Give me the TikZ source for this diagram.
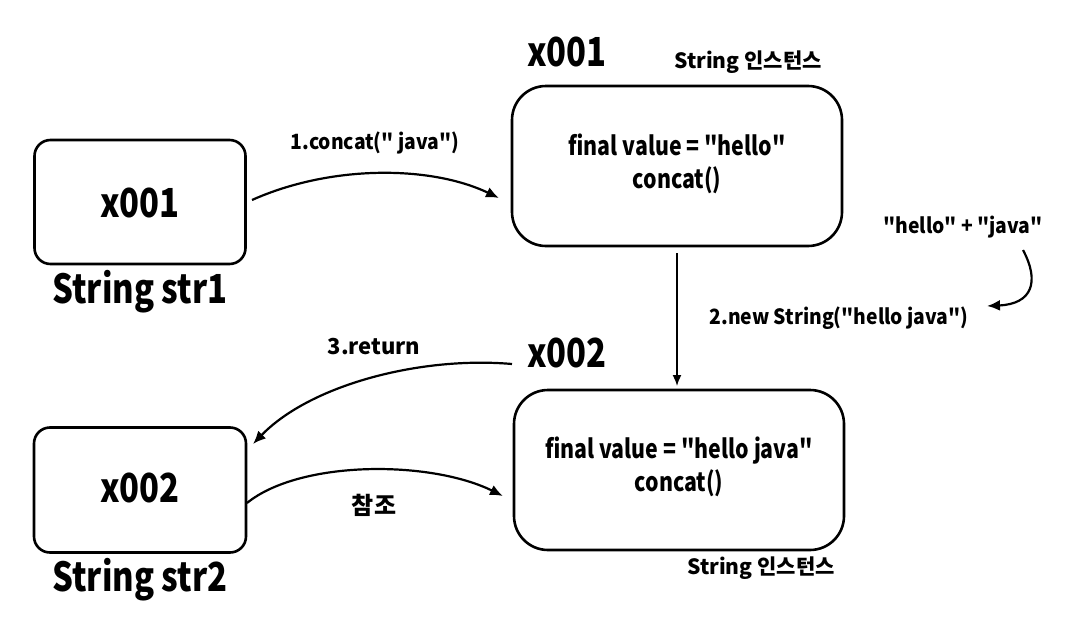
\documentclass[tikz,border=0pt]{standalone}
\usepackage{fontspec}
\newfontfamily\krc{Noto Sans CJK KR}[FakeStretch=0.82]
\newfontfamily\krm{Noto Sans CJK KR}[FakeStretch=0.92]
\newfontfamily\krw{Noto Sans CJK KR}
\usetikzlibrary{arrows.meta}
\begin{document}
\begin{tikzpicture}[x=1pt,y=-1pt,
  box/.style={draw,line width=2.6pt,rounded corners=#1,inner sep=0pt},
  big/.style={font=\krc\fontsize{40}{44}\selectfont\bfseries,inner sep=0pt},
  mid/.style={font=\krc\fontsize{26}{33}\selectfont\bfseries,inner sep=0pt,align=center},
  lbl/.style={font=\krm\fontsize{21}{24}\selectfont\bfseries,inner sep=0pt},
  small/.style={font=\krw\fontsize{21}{24}\selectfont\bfseries,inner sep=0pt},
  arr/.style={line width=2.2pt,-{Latex[length=13pt,width=11pt]}},
  thin/.style={line width=1.6pt,-{Latex[length=11pt,width=9pt]}}]
\useasboundingbox (0,0) rectangle (1065,629);
% boxes
\node[box=16pt,minimum width=211pt,minimum height=124pt] (s1) at (140,202) {};
\node[box=16pt,minimum width=212pt,minimum height=125pt] (s2) at (140,490) {};
\node[box=34pt,minimum width=330pt,minimum height=160pt] (i1) at (677,166) {};
\node[box=34pt,minimum width=330pt,minimum height=160pt] (i2) at (679,470) {};
% texts
\node[big] (t1) at (140,203) {x001};
\node[big] (t2) at (140,488) {x002};
\node[big] (n1) at (140,292) {String str1};
\node[big] (n2) at (140,580) {String str2};
\node[big] (a1) at (567,52) {x001};
\node[big] (a2) at (567,353) {x002};
\node[small] (c1) at (748,62) {String 인스턴스};
\node[small] (c2) at (761,568) {String 인스턴스};
\node[mid] (v1) at (677,164) {final value = "hello"\\concat()};
\node[mid] (v2) at (679,467) {final value = "hello java"\\concat()};
\node[lbl] (l1) at (375,143) {1.concat(" java")};
\node[lbl] (l2) at (839,318) {2.new String("hello java")};
\node[lbl,font=\krw\fontsize{22}{24}\selectfont\bfseries] (l3) at (374,347) {3.return};
\node[lbl,font=\krw\fontsize{24}{26}\selectfont\bfseries] (l4) at (374,505) {참조};
\node[lbl] (hj) at (963,227) {"hello" + "java"};
% connector ends
\coordinate (p1s) at (252,200);
\coordinate (p1e) at (499,198);
\coordinate (p2s) at (677,253);
\coordinate (p2e) at (677,386);
\coordinate (p3s) at (512,364);
\coordinate (p3e) at (253,444);
\coordinate (p4s) at (247,503);
\coordinate (p4e) at (503,496);
\coordinate (p5s) at (1023,250);
\coordinate (p5e) at (987,306);
% connectors
\draw[arr] (p1s) .. controls (330,165) and (430,165) .. (p1e);
\draw[thin] (p2s) -- (p2e);
\draw[arr] (p3s) .. controls (420,356) and (310,385) .. (p3e);
\draw[arr] (p4s) .. controls (300,460) and (430,460) .. (p4e);
\draw[arr] (p5s) .. controls (1040,282) and (1032,304) .. (p5e);
\end{tikzpicture}
\end{document}
